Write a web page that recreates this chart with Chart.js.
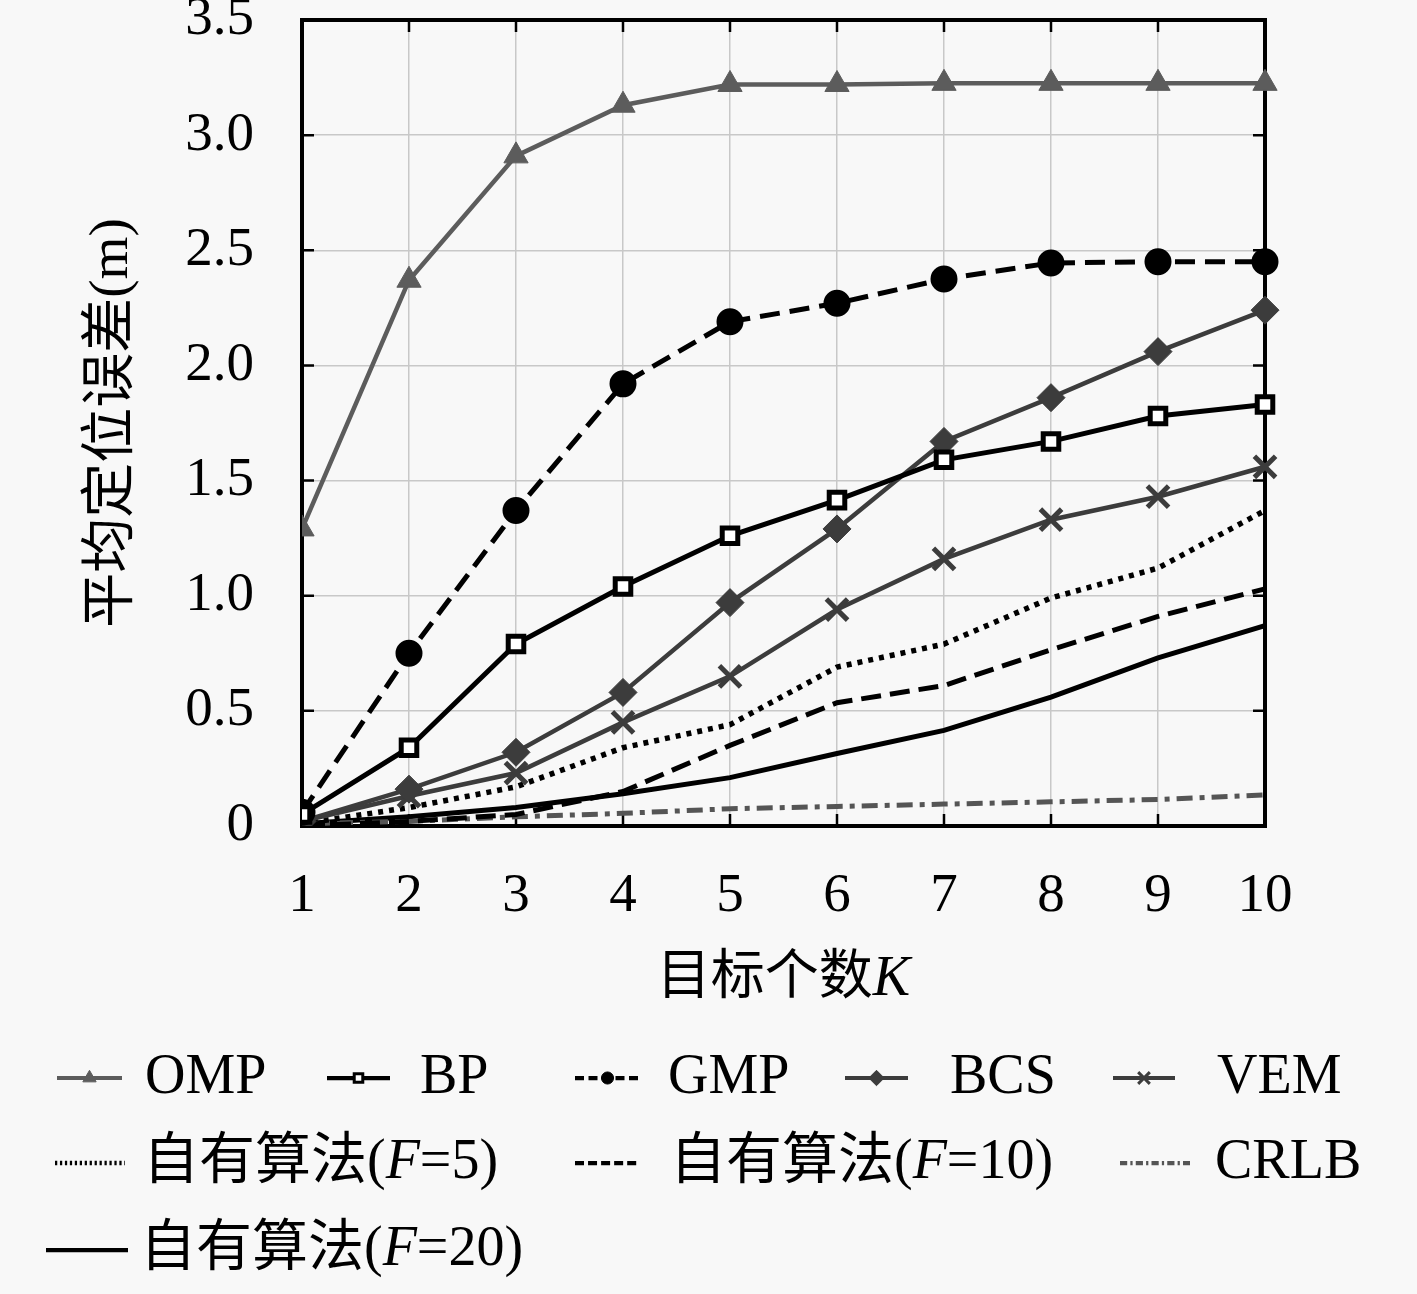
<!DOCTYPE html>
<html>
<head>
<meta charset="utf-8">
<script src="https://cdn.jsdelivr.net/npm/chart.js@4.4.1/dist/chart.umd.min.js"></script>
<style>
  html, body { margin: 0; padding: 0; background: #f8f8f8; }
  #wrap { width: 1417px; height: 1294px; }
</style>
</head>
<body>
<div id="wrap"><canvas id="errChart" width="1417" height="1294"></canvas></div>
<script>
const kValues = [1, 2, 3, 4, 5, 6, 7, 8, 9, 10];
const ompErr = [1.29, 2.37, 2.91, 3.13, 3.22, 3.22, 3.225, 3.225, 3.225, 3.225];
const bpErr = [0.05, 0.34, 0.79, 1.04, 1.26, 1.415, 1.59, 1.67, 1.78, 1.83];
const gmpErr = [0.06, 0.75, 1.37, 1.92, 2.19, 2.27, 2.375, 2.445, 2.45, 2.45];
const bcsErr = [0.02, 0.16, 0.32, 0.58, 0.97, 1.29, 1.67, 1.86, 2.06, 2.24];
const vemErr = [0.02, 0.13, 0.23, 0.45, 0.65, 0.94, 1.16, 1.33, 1.43, 1.56];
const ownF5 = [0.01, 0.08, 0.17, 0.34, 0.44, 0.69, 0.79, 0.99, 1.12, 1.37];
const ownF10 = [0.0, 0.02, 0.05, 0.15, 0.35, 0.535, 0.61, 0.765, 0.91, 1.03];
const ownF20 = [0.01, 0.04, 0.08, 0.14, 0.21, 0.315, 0.415, 0.56, 0.73, 0.87];
const crlbErr = [0.01, 0.02, 0.04, 0.055, 0.075, 0.085, 0.095, 0.105, 0.115, 0.135];

const serif = '"Liberation Serif", "Noto Sans CJK SC", serif';
const toXY = arr => arr.map((v, i) => ({ x: kValues[i], y: v }));

function series(label, values, style) {
  return Object.assign({
    label,
    data: toXY(values),
    fill: false,
    tension: 0,
    pointRadius: 0,
    borderWidth: 5,
    borderColor: '#000',
    backgroundColor: '#000',
    clip: { left: 0, top: 20, right: 25, bottom: 0 }
  }, style);
}

const datasets = [
  series('OMP', ompErr, { borderColor: '#5c5c5c', backgroundColor: '#5c5c5c', borderWidth: 4.5,
    pointStyle: 'triangle', pointRadius: 14, pointBorderWidth: 1 }),
  series('BP', bpErr, { pointStyle: 'rect', pointRadius: 11, pointBackgroundColor: '#fff',
    pointBorderColor: '#000', pointBorderWidth: 5 }),
  series('GMP', gmpErr, { borderDash: [20, 10], pointStyle: 'circle', pointRadius: 11 }),
  series('BCS', bcsErr, { borderColor: '#3c3c3c', backgroundColor: '#3c3c3c', borderWidth: 4.5,
    pointStyle: 'rectRot', pointRadius: 14, pointBorderWidth: 1 }),
  series('VEM', vemErr, { borderColor: '#3c3c3c', backgroundColor: '#3c3c3c', borderWidth: 4.5,
    pointStyle: 'crossRot', pointRadius: 15, pointBorderWidth: 5 }),
  series('F=5', ownF5, { borderDash: [5, 6], borderWidth: 5.5 }),
  series('F=10', ownF10, { borderDash: [20, 9] }),
  series('CRLB', crlbErr, { borderColor: '#555', borderDash: [16, 7, 5, 7] }),
  series('F=20', ownF20, {})
];

// legend layout: [sample start, sample end, text x, row y]
const legendPlaces = [
  [57, 122, 145, 1078], [327, 390, 420, 1078], [575, 640, 668, 1078],
  [845, 908, 950, 1078], [1113, 1175, 1217, 1078],
  [55, 125, 143, 1163], [575, 640, 670, 1163], [1120, 1190, 1215, 1163],
  [46, 128, 140, 1250]
];

function drawRuns(ctx, x, y, runs, align) {
  let total = 0;
  runs.forEach(([text, font]) => { ctx.font = font; total += ctx.measureText(text).width; });
  if (align === 'center') x -= total / 2;
  runs.forEach(([text, font]) => {
    ctx.font = font;
    ctx.fillText(text, x, y);
    x += ctx.measureText(text).width;
  });
}

const framePlugin = {
  id: 'framePlugin',
  beforeDatasetsDraw(chart) {
    const { ctx, chartArea: a, scales } = chart;
    ctx.save();
    ctx.strokeStyle = '#000';
    ctx.lineWidth = 2.5;
    ctx.beginPath();
    scales.y.ticks.forEach(t => {
      const y = scales.y.getPixelForValue(t.value);
      ctx.moveTo(a.left, y); ctx.lineTo(a.left + 12, y);
      ctx.moveTo(a.right, y); ctx.lineTo(a.right - 12, y);
    });
    scales.x.ticks.forEach(t => {
      const x = scales.x.getPixelForValue(t.value);
      ctx.moveTo(x, a.bottom); ctx.lineTo(x, a.bottom - 12);
      ctx.moveTo(x, a.top); ctx.lineTo(x, a.top + 12);
    });
    ctx.stroke();
    ctx.lineWidth = 4;
    ctx.strokeRect(a.left, a.top, a.right - a.left, a.bottom - a.top);
    ctx.restore();
  },
  afterDraw(chart) {
    const { ctx, chartArea: a } = chart;
    const normal = '56px ' + serif;
    const italic = 'italic 56px ' + serif;
    ctx.save();
    ctx.textBaseline = 'middle';
    ctx.fillStyle = '#000';
    // x axis title with italic K
    drawRuns(ctx, (a.left + a.right) / 2, 980,
      [['目标个数', '54px ' + serif], ['K', 'italic 56px ' + serif]], 'center');
    chart.data.datasets.forEach((ds, i) => {
      const [x0, x1, tx, y] = legendPlaces[i];
      ctx.save();
      ctx.strokeStyle = ds.borderColor;
      ctx.lineWidth = ds.borderWidth * 0.85;
      ctx.setLineDash(ds.borderDash ? ds.borderDash.map(d => d * 0.45) : []);
      ctx.beginPath();
      ctx.moveTo(x0, y); ctx.lineTo(x1, y);
      ctx.stroke();
      ctx.setLineDash([]);
      if (ds.pointStyle && ds.pointRadius) {
        ctx.fillStyle = ds.pointBackgroundColor || ds.backgroundColor;
        ctx.strokeStyle = ds.pointBorderColor || ds.borderColor;
        ctx.lineWidth = Math.min(ds.pointBorderWidth || 1, 3);
        Chart.helpers.drawPoint(ctx, {
          pointStyle: ds.pointStyle, radius: ds.pointRadius * 0.55,
          borderWidth: ctx.lineWidth, rotation: 0
        }, (x0 + x1) / 2, y);
      }
      ctx.restore();
      if (ds.label.startsWith('F=')) {
        drawRuns(ctx, tx, y, [['自有算法(', normal], ['F', italic], [ds.label.slice(1) + ')', normal]]);
      } else {
        drawRuns(ctx, tx, y, [[ds.label, normal]]);
      }
    });
    ctx.restore();
  }
};

new Chart(document.getElementById('errChart'), {
  type: 'line',
  data: { datasets },
  options: {
    responsive: false,
    animation: false,
    layout: { padding: { top: 20, right: 152, bottom: 288, left: 0 } },
    plugins: { legend: { display: false }, tooltip: { enabled: false } },
    scales: {
      x: {
        type: 'linear',
        min: 1,
        max: 10,
        afterFit: s => { s.height = 180; s.paddingLeft = 0; s.paddingRight = 0; },
        grid: { color: '#c8c8c8', lineWidth: 1.5, drawTicks: false },
        border: { display: false },
        ticks: { stepSize: 1, padding: 38, color: '#000', font: { family: serif, size: 55 } }
      },
      y: {
        min: 0,
        max: 3.5,
        afterFit: s => { s.width = 302; s.paddingTop = 0; s.paddingBottom = 0; },
        grid: { color: '#c8c8c8', lineWidth: 1.5, drawTicks: false },
        border: { display: false },
        ticks: {
          stepSize: 0.5, padding: 48, color: '#000', font: { family: serif, size: 55 },
          callback: v => v === 0 ? '0' : v.toFixed(1)
        },
        title: {
          display: true, text: '平均定位误差(m)', color: '#000',
          font: { family: serif, size: 55 }, padding: { top: 80, bottom: 0 }
        }
      }
    }
  },
  plugins: [framePlugin]
});
</script>
</body>
</html>
